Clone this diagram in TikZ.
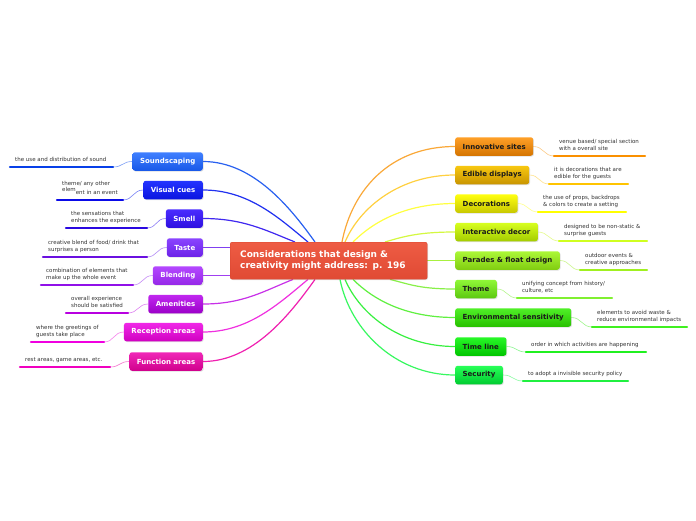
\documentclass[tikz,border=0pt]{standalone}
\usepackage{fontspec}
\setmainfont{DejaVu Sans}
\usetikzlibrary{shadows,calc,backgrounds}
\newcommand\mmTopicFont{\bfseries\fontsize{7}{8.4}\selectfont}
\newcommand\mmNoteFont{\fontsize{5.5}{7}\selectfont}
% central
\definecolor{cTop}{HTML}{EE5C44}\definecolor{cBot}{HTML}{E04A34}\definecolor{cBrd}{HTML}{D84630}
% left
\definecolor{soundT}{HTML}{4080FF}\definecolor{soundB}{HTML}{1858E8}\definecolor{soundL}{HTML}{2860F0}\definecolor{soundU}{HTML}{0840E8}
\definecolor{visT}{HTML}{2434FF}\definecolor{visB}{HTML}{0A14E0}\definecolor{visL}{HTML}{2030F0}\definecolor{visU}{HTML}{0A0AE8}
\definecolor{smT}{HTML}{4A2CFF}\definecolor{smB}{HTML}{2E10E0}\definecolor{smL}{HTML}{4028F0}\definecolor{smU}{HTML}{2A08E0}
\definecolor{taT}{HTML}{8A44FF}\definecolor{taB}{HTML}{6C22E8}\definecolor{taL}{HTML}{8040F0}\definecolor{taU}{HTML}{6A10E0}
\definecolor{blT}{HTML}{B448FF}\definecolor{blB}{HTML}{9628E8}\definecolor{blL}{HTML}{A040F0}\definecolor{blU}{HTML}{9010E8}
\definecolor{amT}{HTML}{C028F0}\definecolor{amB}{HTML}{9C00C8}\definecolor{amL}{HTML}{C830E8}\definecolor{amU}{HTML}{B800E0}
\definecolor{reT}{HTML}{F028E8}\definecolor{reB}{HTML}{D000C0}\definecolor{reL}{HTML}{F030E0}\definecolor{reU}{HTML}{F000E0}
\definecolor{fuT}{HTML}{F028B8}\definecolor{fuB}{HTML}{D0008C}\definecolor{fuL}{HTML}{F020B0}\definecolor{fuU}{HTML}{F000C0}
% right
\definecolor{inT}{HTML}{FFA028}\definecolor{inB}{HTML}{D47400}\definecolor{inL}{HTML}{FAA838}\definecolor{inU}{HTML}{FA9000}
\definecolor{edT}{HTML}{F8C810}\definecolor{edB}{HTML}{C89400}\definecolor{edL}{HTML}{FFD040}\definecolor{edU}{HTML}{FFC400}
\definecolor{deT}{HTML}{FFFF10}\definecolor{deB}{HTML}{C8C800}\definecolor{deL}{HTML}{FFFF40}\definecolor{deU}{HTML}{FFFF00}
\definecolor{ixT}{HTML}{D8FF20}\definecolor{ixB}{HTML}{A4CC00}\definecolor{ixL}{HTML}{D4F840}\definecolor{ixU}{HTML}{D0FF20}
\definecolor{paT}{HTML}{ACF838}\definecolor{paB}{HTML}{80CC10}\definecolor{paL}{HTML}{A8F040}\definecolor{paU}{HTML}{A0F020}
\definecolor{thT}{HTML}{90F838}\definecolor{thB}{HTML}{5CC810}\definecolor{thL}{HTML}{88F048}\definecolor{thU}{HTML}{80F030}
\definecolor{enT}{HTML}{50F028}\definecolor{enB}{HTML}{28C000}\definecolor{enL}{HTML}{60F040}\definecolor{enU}{HTML}{40F020}
\definecolor{tiT}{HTML}{28F828}\definecolor{tiB}{HTML}{00C400}\definecolor{tiL}{HTML}{38F040}\definecolor{tiU}{HTML}{20F020}
\definecolor{seT}{HTML}{28FF58}\definecolor{seB}{HTML}{00CC30}\definecolor{seL}{HTML}{38F860}\definecolor{seU}{HTML}{20F040}
\definecolor{noteText}{HTML}{333333}
\definecolor{topicDark}{HTML}{1A1A1A}
\tikzset{
  topic/.style={rounded corners=2.5pt, minimum height=18.5pt, inner xsep=7.5pt, inner ysep=0pt,
    font=\mmTopicFont, drop shadow={shadow xshift=0.8pt, shadow yshift=-0.8pt, opacity=0.25}},
  ltopic/.style={topic, anchor=east, text=white},
  rtopic/.style={topic, anchor=west, text=topicDark},
  notetext/.style={anchor=south west, inner sep=0pt, text depth=0pt, align=left, font=\mmNoteFont, text=noteText},
  mainline/.style={line width=1.2pt},
  notelink/.style={line width=0.6pt, opacity=0.6},
  uline/.style={line width=2.4pt, line cap=round},
}
\begin{document}
\begin{tikzpicture}[x=1pt,y=-1pt]
\useasboundingbox (0,0) rectangle (696,520);

% central node
\node[rounded corners=2pt, draw=cBrd, line width=0.4pt, top color=cTop, bottom color=cBot,
  minimum width=197pt, minimum height=37pt, inner xsep=10pt, text width=177pt, align=left,
  anchor=north west, text=white, font=\bfseries\fontsize{9}{10.5}\selectfont,
  drop shadow={shadow xshift=0.8pt, shadow yshift=-0.8pt, opacity=0.25}]
  (c) at (230,242) {Considerations that design \&\\creativity might address: p. 196};

% left topics
\node[ltopic, top color=soundT, bottom color=soundB] (sound) at (203,161.5) {Soundscaping};
\node[ltopic, top color=visT, bottom color=visB] (vis) at (203,190) {Visual cues};
\node[ltopic, top color=smT, bottom color=smB] (smell) at (203,218.5) {Smell};
\node[ltopic, top color=taT, bottom color=taB] (taste) at (203,247.5) {Taste};
\node[ltopic, top color=blT, bottom color=blB] (blend) at (203,275.5) {Blending};
\node[ltopic, top color=amT, bottom color=amB] (amen) at (203,304) {Amenities};
\node[ltopic, top color=reT, bottom color=reB] (recep) at (203,332) {Reception areas};
\node[ltopic, top color=fuT, bottom color=fuB] (func) at (203,361.5) {Function areas};

% right topics
\node[rtopic, top color=inT, bottom color=inB] (innov) at (455,146.5) {Innovative sites};
\node[rtopic, top color=edT, bottom color=edB] (edible) at (455,175) {Edible displays};
\node[rtopic, top color=deT, bottom color=deB] (deco) at (455,203.5) {Decorations};
\node[rtopic, top color=ixT, bottom color=ixB] (inter) at (455,232) {Interactive decor};
\node[rtopic, top color=paT, bottom color=paB] (parade) at (455,260.5) {Parades \& float design};
\node[rtopic, top color=thT, bottom color=thB] (theme) at (455,289) {Theme};
\node[rtopic, top color=enT, bottom color=enB] (env) at (455,317.5) {Environmental sensitivity};
\node[rtopic, top color=tiT, bottom color=tiB] (time) at (455,346.5) {Time line};
\node[rtopic, top color=seT, bottom color=seB] (sec) at (455,375) {Security};

% left notes
\node[notetext] (n1) at (15,161.5) {the use and distribution of sound};
\node[notetext] (n2) at (62,194.5) {theme/ any other\\\raisebox{2.7pt}{elem}ent in an event};
\node[notetext] (n3) at (71,222.5) {the sensations that\\enhances the experience};
\node[notetext] (n4) at (48,251.5) {creative blend of food/ drink that\\surprises a person};
\node[notetext] (n5) at (46,279.5) {combination of elements that\\make up the whole event};
\node[notetext] (n6) at (71,307.5) {overall experience\\should be satisfied};
\node[notetext] (n7) at (36,336.5) {where the greetings of\\guests take place};
\node[notetext] (n8) at (25,361.5) {rest areas, game areas, etc.};

% right notes
\node[notetext] (m1) at (559,150.5) {venue based/ special section\\with a overall site};
\node[notetext] (m2) at (554,178.5) {it is decorations that are\\edible for the guests};
\node[notetext] (m3) at (543,206.5) {the use of props, backdrops\\\& colors to create a setting};
\node[notetext] (m4) at (564,235.5) {designed to be non-static \&\\surprise guests};
\node[notetext] (m5) at (585,264.5) {outdoor events \&\\creative approaches};
\node[notetext] (m6) at (522,292.5) {unifying concept from history/\\culture, etc};
\node[notetext] (m7) at (597,321.5) {elements to avoid waste \&\\reduce environmental impacts};
\node[notetext] (m8) at (531,346.5) {order in which activities are happening};
\node[notetext] (m9) at (528,375.5) {to adopt a invisible security policy};

% underline coordinates
\coordinate (a1) at (10,167);  \coordinate (b1) at (113,167);
\coordinate (a2) at (57,200);  \coordinate (b2) at (123,200);
\coordinate (a3) at (66,228);  \coordinate (b3) at (147,228);
\coordinate (a4) at (43,257);  \coordinate (b4) at (147,257);
\coordinate (a5) at (41,285);  \coordinate (b5) at (133,285);
\coordinate (a6) at (66,313);  \coordinate (b6) at (128,313);
\coordinate (a7) at (31,342);  \coordinate (b7) at (104,342);
\coordinate (a8) at (20,367);  \coordinate (b8) at (110,367);
\coordinate (p1) at (554,156); \coordinate (q1) at (645,156);
\coordinate (p2) at (549,184); \coordinate (q2) at (628,184);
\coordinate (p3) at (538,212); \coordinate (q3) at (626,212);
\coordinate (p4) at (559,241); \coordinate (q4) at (647,241);
\coordinate (p5) at (580,270); \coordinate (q5) at (647,270);
\coordinate (p6) at (517,298); \coordinate (q6) at (612,298);
\coordinate (p7) at (592,327); \coordinate (q7) at (687,327);
\coordinate (p8) at (526,352); \coordinate (q8) at (646,352);
\coordinate (p9) at (523,381); \coordinate (q9) at (628,381);

\draw[uline, soundU] (a1) -- (b1);
\draw[uline, visU] (a2) -- (b2);
\draw[uline, smU] (a3) -- (b3);
\draw[uline, taU] (a4) -- (b4);
\draw[uline, blU] (a5) -- (b5);
\draw[uline, amU] (a6) -- (b6);
\draw[uline, reU] (a7) -- (b7);
\draw[uline, fuU] (a8) -- (b8);
\draw[uline, inU] (p1) -- (q1);
\draw[uline, edU] (p2) -- (q2);
\draw[uline, deU] (p3) -- (q3);
\draw[uline, ixU] (p4) -- (q4);
\draw[uline, paU] (p5) -- (q5);
\draw[uline, thU] (p6) -- (q6);
\draw[uline, enU] (p7) -- (q7);
\draw[uline, tiU] (p8) -- (q8);
\draw[uline, seU] (p9) -- (q9);

\begin{scope}[on background layer]
\fill[white] (0,0) rectangle (696,520);
% main connectors left
\draw[mainline, soundL] (sound.east) .. controls +(50,0) and +(-25,-35) .. ($(c.north west)+(85,0)$);
\draw[mainline, visL] (vis.east) .. controls +(45,0) and +(-30,-25) .. ($(c.north west)+(78,0)$);
\draw[mainline, smL] (smell.east) .. controls +(40,0) and +(-30,-12) .. ($(c.north west)+(65,0)$);
\draw[mainline, taL] (taste.east) -- (taste.east -| c.west);
\draw[mainline, blL] (blend.east) -- (blend.east -| c.west);
\draw[mainline, amL] (amen.east) .. controls +(40,0) and +(-30,12) .. ($(c.south west)+(63,0)$);
\draw[mainline, reL] (recep.east) .. controls +(45,0) and +(-30,25) .. ($(c.south west)+(78,0)$);
\draw[mainline, fuL] (func.east) .. controls +(50,0) and +(-25,35) .. ($(c.south west)+(85,0)$);
% main connectors right
\draw[mainline, inL] (innov.west) .. controls +(-65,0) and +(10,-52) .. ($(c.north west)+(112,0)$);
\draw[mainline, edL] (edible.west) .. controls +(-55,0) and +(15,-35) .. ($(c.north west)+(115,0)$);
\draw[mainline, deL] (deco.west) .. controls +(-50,0) and +(20,-20) .. ($(c.north west)+(123,0)$);
\draw[mainline, ixL] (inter.west) .. controls +(-35,0) and +(20,-6) .. ($(c.north west)+(155,0)$);
\draw[mainline, paL] (parade.west) -- (parade.west -| c.east);
\draw[mainline, thL] (theme.west) .. controls +(-35,0) and +(20,5) .. ($(c.south west)+(160,0)$);
\draw[mainline, enL] (env.west) .. controls +(-50,0) and +(20,20) .. ($(c.south west)+(123,0)$);
\draw[mainline, tiL] (time.west) .. controls +(-55,0) and +(15,35) .. ($(c.south west)+(115,0)$);
\draw[mainline, seL] (sec.west) .. controls +(-60,0) and +(10,50) .. ($(c.south west)+(110,0)$);
% note links
\draw[notelink, soundL] (b1) .. controls +(10,0) and +(-10,0) .. (sound.west);
\draw[notelink, visL] (b2) .. controls +(10,0) and +(-10,0) .. (vis.west);
\draw[notelink, smL] (b3) .. controls +(10,0) and +(-10,0) .. (smell.west);
\draw[notelink, taL] (b4) .. controls +(10,0) and +(-10,0) .. (taste.west);
\draw[notelink, blL] (b5) .. controls +(10,0) and +(-10,0) .. (blend.west);
\draw[notelink, amL] (b6) .. controls +(10,0) and +(-10,0) .. (amen.west);
\draw[notelink, reL] (b7) .. controls +(10,0) and +(-10,0) .. (recep.west);
\draw[notelink, fuL] (b8) .. controls +(10,0) and +(-10,0) .. (func.west);
\draw[notelink, inL] (innov.east) .. controls +(10,0) and +(-10,0) .. (p1);
\draw[notelink, edL] (edible.east) .. controls +(10,0) and +(-10,0) .. (p2);
\draw[notelink, deL] (deco.east) .. controls +(10,0) and +(-10,0) .. (p3);
\draw[notelink, ixL] (inter.east) .. controls +(10,0) and +(-10,0) .. (p4);
\draw[notelink, paL] (parade.east) .. controls +(10,0) and +(-10,0) .. (p5);
\draw[notelink, thL] (theme.east) .. controls +(10,0) and +(-10,0) .. (p6);
\draw[notelink, enL] (env.east) .. controls +(10,0) and +(-10,0) .. (p7);
\draw[notelink, tiL] (time.east) .. controls +(10,0) and +(-10,0) .. (p8);
\draw[notelink, seL] (sec.east) .. controls +(10,0) and +(-10,0) .. (p9);
\end{scope}
\end{tikzpicture}
\end{document}
